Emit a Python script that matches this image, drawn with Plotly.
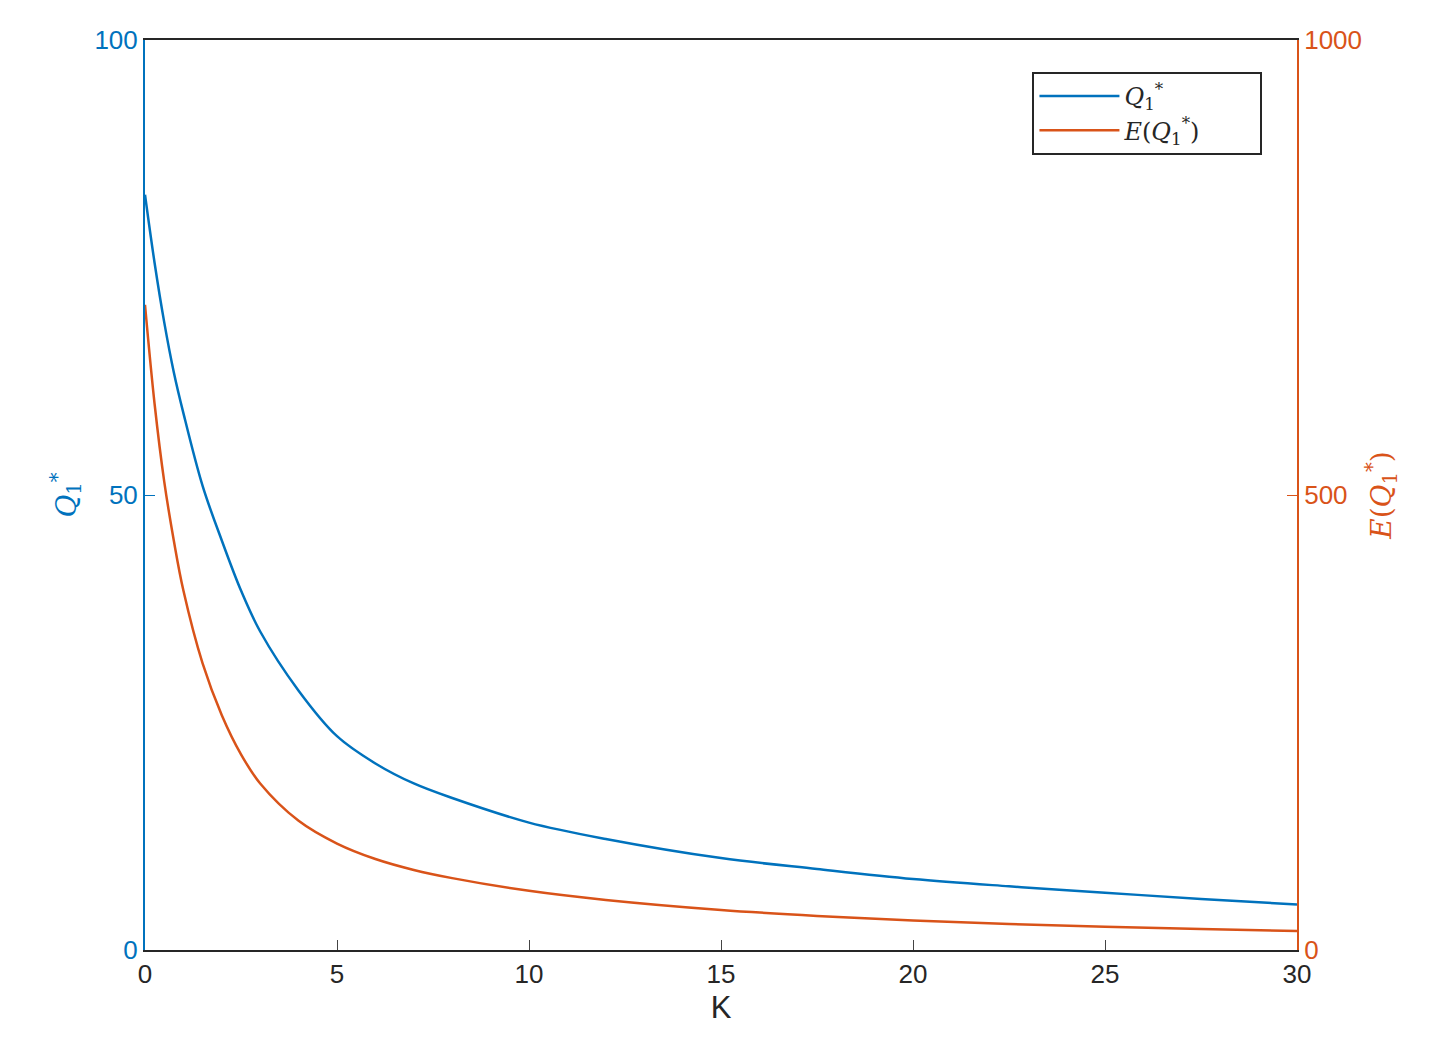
import plotly.graph_objects as go

K = [0, 0.25, 0.5, 0.75, 1, 1.5, 2, 2.5, 3, 4, 5, 6, 7, 8, 10, 12, 15, 17.5, 20, 22.5, 25, 27.5, 30]
Q1 = [83, 75.5, 69, 63.5, 59, 51, 45, 39.5, 35, 28.5, 23.5, 20.5, 18.3, 16.7, 14, 12.2, 10.1, 8.9, 7.8, 7.0, 6.3, 5.6, 5.0]
EQ1 = [709, 600, 515, 450, 395, 315, 258, 215, 183, 142, 117, 100, 88, 79, 65, 55, 44, 37.5, 32.5, 28.5, 25.5, 23, 21]

BLUE = "#0072BD"
ORANGE = "#D95319"
FONT = "Liberation Sans, Arial, sans-serif"

fig = go.Figure()
fig.add_trace(go.Scatter(x=K, y=Q1, mode="lines", line=dict(color=BLUE, width=2.5, shape="spline", smoothing=1.0),
                         name="<i>Q</i><sub>1</sub><sup>*</sup>            "))
fig.add_trace(go.Scatter(x=K, y=EQ1, mode="lines", line=dict(color=ORANGE, width=2.5, shape="spline", smoothing=1.0),
                         name="<i>E</i>(<i>Q</i><sub>1</sub><sup>*</sup>)", yaxis="y2"))

fig.update_layout(
    width=1454, height=1064, plot_bgcolor="white", paper_bgcolor="white",
    margin=dict(l=137, r=165, t=32, b=122, autoexpand=False),
    font=dict(family=FONT, size=26, color="#262626"),
    xaxis=dict(range=[0, 30], tickvals=[0, 5, 10, 15, 20, 25, 30], ticks="inside", ticklen=10, automargin=False,
               showline=True, linecolor="#262626", linewidth=2, mirror=True, showgrid=False, zeroline=False,
               title=dict(text="K", standoff=8), tickfont=dict(size=26)),
    yaxis=dict(range=[0, 100], tickvals=[0, 50, 100], ticks="inside", ticklen=10, tickcolor=BLUE, automargin=False,
               showline=True, linecolor=BLUE, linewidth=2, showgrid=False, zeroline=False,
               tickfont=dict(color=BLUE, size=26),
               title=dict(text="<i>Q</i><sub>1</sub><sup>*</sup>", font=dict(color=BLUE, family="DejaVu Serif", size=28), standoff=10)),
    yaxis2=dict(range=[0, 1000], tickvals=[0, 500, 1000], overlaying="y", side="right", ticks="inside", ticklen=10,
                tickcolor=ORANGE, showline=True, linecolor=ORANGE, linewidth=2, showgrid=False, zeroline=False, automargin=False,
                tickfont=dict(color=ORANGE, size=26),
                title=dict(text="<i>E</i>(<i>Q</i><sub>1</sub><sup>*</sup>)", font=dict(color=ORANGE, family="DejaVu Serif", size=28), standoff=10)),
    legend=dict(x=0.97, y=0.965, xanchor="right", yanchor="top", bgcolor="white", bordercolor="#262626", borderwidth=2,
                itemwidth=80, font=dict(family="DejaVu Serif", size=24, color="#262626")),
)
fig.write_html("out.html")
